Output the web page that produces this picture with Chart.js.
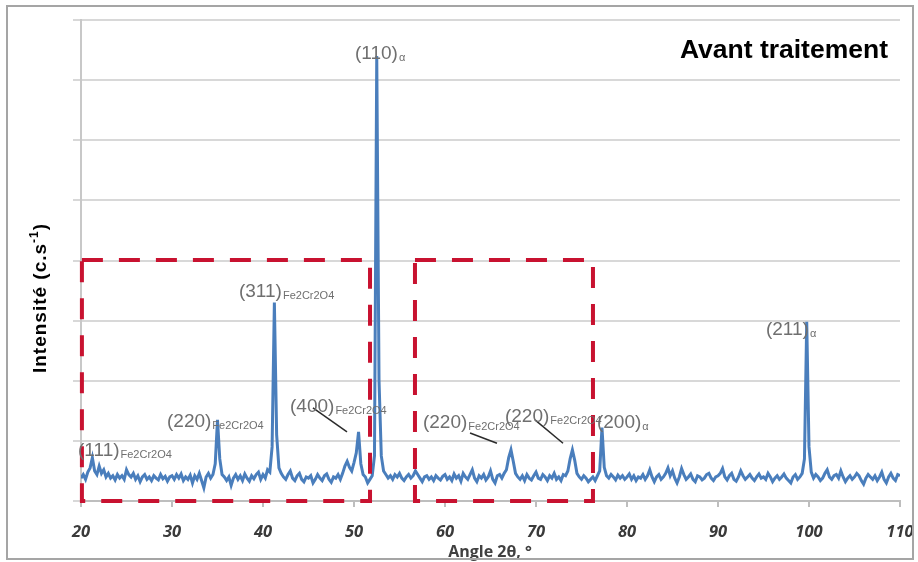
<!DOCTYPE html>
<html>
<head>
<meta charset="utf-8">
<script src="https://cdn.jsdelivr.net/npm/chart.js@4.4.0/dist/chart.umd.min.js"></script>
<style>
  html, body { margin: 0; padding: 0; background: #fff; }
  #wrap { width: 918px; height: 562px; position: relative; }
</style>
</head>
<body>
<div id="wrap"><canvas id="xrdChart" width="918" height="562"></canvas></div>
<script>
// diffractogram (2theta in degrees, intensity in counts, grid step 100)
const angles = [
  20.00, 20.25, 20.50, 20.75, 21.00, 21.25, 21.50, 21.75, 22.00, 22.25, 22.50, 22.75, 23.00, 23.25, 23.50, 23.75, 24.00, 24.25, 24.50, 24.75,
  25.00, 25.25, 25.50, 25.75, 26.00, 26.25, 26.50, 26.75, 27.00, 27.25, 27.50, 27.75, 28.00, 28.25, 28.50, 28.75, 29.00, 29.25, 29.50, 29.75,
  30.00, 30.25, 30.50, 30.75, 31.00, 31.25, 31.50, 31.75, 32.00, 32.25, 32.50, 32.75, 33.00, 33.25, 33.50, 33.75, 34.00, 34.25, 34.50, 34.75,
  35.00, 35.25, 35.50, 35.75, 36.00, 36.25, 36.50, 36.75, 37.00, 37.25, 37.50, 37.75, 38.00, 38.25, 38.50, 38.75, 39.00, 39.25, 39.50, 39.75,
  40.00, 40.25, 40.50, 40.75, 41.00, 41.25, 41.50, 41.75, 42.00, 42.25, 42.50, 42.75, 43.00, 43.25, 43.50, 43.75, 44.00, 44.25, 44.50, 44.75,
  45.00, 45.25, 45.50, 45.75, 46.00, 46.25, 46.50, 46.75, 47.00, 47.25, 47.50, 47.75, 48.00, 48.25, 48.50, 48.75, 49.00, 49.25, 49.50, 49.75,
  50.00, 50.25, 50.50, 50.75, 51.00, 51.25, 51.50, 51.75, 52.00, 52.25, 52.50, 52.75, 53.00, 53.25, 53.50, 53.75, 54.00, 54.25, 54.50, 54.75,
  55.00, 55.25, 55.50, 55.75, 56.00, 56.25, 56.50, 56.75, 57.00, 57.25, 57.50, 57.75, 58.00, 58.25, 58.50, 58.75, 59.00, 59.25, 59.50, 59.75,
  60.00, 60.25, 60.50, 60.75, 61.00, 61.25, 61.50, 61.75, 62.00, 62.25, 62.50, 62.75, 63.00, 63.25, 63.50, 63.75, 64.00, 64.25, 64.50, 64.75,
  65.00, 65.25, 65.50, 65.75, 66.00, 66.25, 66.50, 66.75, 67.00, 67.25, 67.50, 67.75, 68.00, 68.25, 68.50, 68.75, 69.00, 69.25, 69.50, 69.75,
  70.00, 70.25, 70.50, 70.75, 71.00, 71.25, 71.50, 71.75, 72.00, 72.25, 72.50, 72.75, 73.00, 73.25, 73.50, 73.75, 74.00, 74.25, 74.50, 74.75,
  75.00, 75.25, 75.50, 75.75, 76.00, 76.25, 76.50, 76.75, 77.00, 77.25, 77.50, 77.75, 78.00, 78.25, 78.50, 78.75, 79.00, 79.25, 79.50, 79.75,
  80.00, 80.25, 80.50, 80.75, 81.00, 81.25, 81.50, 81.75, 82.00, 82.25, 82.50, 82.75, 83.00, 83.25, 83.50, 83.75, 84.00, 84.25, 84.50, 84.75,
  85.00, 85.25, 85.50, 85.75, 86.00, 86.25, 86.50, 86.75, 87.00, 87.25, 87.50, 87.75, 88.00, 88.25, 88.50, 88.75, 89.00, 89.25, 89.50, 89.75,
  90.00, 90.25, 90.50, 90.75, 91.00, 91.25, 91.50, 91.75, 92.00, 92.25, 92.50, 92.75, 93.00, 93.25, 93.50, 93.75, 94.00, 94.25, 94.50, 94.75,
  95.00, 95.25, 95.50, 95.75, 96.00, 96.25, 96.50, 96.75, 97.00, 97.25, 97.50, 97.75, 98.00, 98.25, 98.50, 98.75, 99.00, 99.25, 99.50, 99.75,
  100.00, 100.25, 100.50, 100.75, 101.00, 101.25, 101.50, 101.75, 102.00, 102.25, 102.50, 102.75, 103.00, 103.25, 103.50, 103.75, 104.00, 104.25, 104.50, 104.75,
  105.00, 105.25, 105.50, 105.75, 106.00, 106.25, 106.50, 106.75, 107.00, 107.25, 107.50, 107.75, 108.00, 108.25, 108.50, 108.75, 109.00, 109.25, 109.50, 109.75,
  110.00
];
const intensity = [
  38, 44, 36, 48, 55, 72, 50, 44, 58, 46, 52, 40, 46, 38, 42, 35, 44, 38, 42, 36,
  52, 44, 40, 46, 36, 42, 32, 40, 44, 36, 40, 34, 42, 38, 35, 44, 37, 41, 33, 40,
  42, 36, 44, 38, 45, 34, 40, 36, 43, 30, 42, 36, 46, 34, 22, 40, 46, 38, 44, 62,
  135, 70, 44, 40, 34, 40, 26, 38, 44, 36, 42, 34, 45, 38, 33, 42, 37, 44, 48, 36,
  44, 38, 52, 48, 90, 330, 110, 55, 46, 40, 36, 44, 50, 38, 34, 42, 46, 36, 32, 40,
  38, 42, 30, 36, 44, 38, 34, 42, 45, 36, 31, 40, 38, 44, 36, 46, 58, 66, 56, 50,
  64, 80, 115, 62, 44, 40, 30, 36, 42, 75, 740, 200, 75, 50, 44, 38, 42, 36, 44, 40,
  46, 38, 34, 40, 44, 38, 42, 50, 44, 38, 32, 40, 42, 36, 40, 34, 42, 38, 35, 41,
  44, 36, 40, 34, 45, 38, 42, 33, 46, 40, 36, 44, 52, 38, 32, 42, 38, 44, 35, 40,
  50, 36, 30, 42, 44, 38, 46, 52, 72, 85, 66, 46, 40, 36, 42, 34, 44, 38, 35, 42,
  48, 38, 36, 44, 40, 34, 42, 38, 46, 36, 40, 34, 44, 42, 50, 70, 85, 68, 46, 40,
  36, 42, 38, 32, 36, 40, 34, 42, 50, 122, 56, 42, 38, 44, 40, 35, 43, 38, 42, 36,
  40, 45, 36, 42, 34, 40, 38, 44, 36, 42, 52, 40, 32, 40, 44, 36, 40, 46, 55, 42,
  50, 38, 30, 40, 54, 44, 36, 40, 45, 36, 32, 42, 40, 35, 38, 44, 46, 38, 34, 40,
  42, 46, 54, 40, 35, 42, 46, 36, 33, 40, 50, 42, 36, 40, 44, 38, 34, 40, 45, 38,
  40, 36, 46, 40, 32, 38, 42, 36, 40, 45, 38, 34, 30, 40, 44, 36, 40, 46, 70, 298,
  90, 48, 38, 44, 40, 34, 38, 46, 52, 40, 36, 42, 44, 38, 50, 40, 32, 38, 42, 36,
  40, 46, 42, 34, 28, 38, 44, 40, 36, 42, 34, 40, 48, 36, 30, 40, 46, 38, 34, 44,
  42
];
const xTicks = [20, 30, 40, 50, 60, 70, 80, 90, 100, 110];

// peak labels: main text, subscript, anchor (angle, intensity) = left edge / middle of text
const peakNames = ['(111)', '(220)', '(311)', '(400)', '(110)', '(220)', '(220)', '(200)', '(211)'];
const peakSubs = ['Fe2Cr2O4', 'Fe2Cr2O4', 'Fe2Cr2O4', 'Fe2Cr2O4', 'α', 'Fe2Cr2O4', 'Fe2Cr2O4', 'α', 'α'];
const peakLabelAngle = [19.67, 29.45, 37.36, 42.97, 50.11, 57.58, 66.59, 76.70, 95.27];
const peakLabelLevel = [83, 131, 348, 156, 744, 130, 140, 130, 285];

// leader lines [angle1, level1, angle2, level2]
const leaders = [
  [45.49, 155, 49.23, 115],
  [62.75, 113, 65.71, 96],
  [69.89, 135, 72.97, 96]
];

// dashed zones [angle from, angle to, level top]
const zones = [
  [20.1, 51.76, 401],
  [56.70, 76.26, 401]
];

const blue = 'rgb(74,126,188)';
const red = 'rgb(200,18,48)';
const gridGray = 'rgb(216,216,216)';
const arial = '"Liberation Sans", Arial, sans-serif';

const overlay = {
  id: 'overlay',
  afterDatasetsDraw(chart) {
    const ctx = chart.ctx;
    const xs = chart.scales.x, ys = chart.scales.y;
    ctx.save();

    // dashed boxes
    ctx.strokeStyle = red;
    ctx.lineWidth = 4;
    ctx.setLineDash([21, 16]);
    zones.forEach(z => {
      const x1 = xs.getPixelForValue(z[0]), x2 = xs.getPixelForValue(z[1]);
      const y1 = ys.getPixelForValue(z[2]), y2 = ys.getPixelForValue(0);
      ctx.strokeRect(x1, y1, x2 - x1, y2 - y1);
    });
    ctx.setLineDash([]);

    // leader lines
    ctx.strokeStyle = '#2b2b2b';
    ctx.lineWidth = 1.5;
    leaders.forEach(l => {
      ctx.beginPath();
      ctx.moveTo(xs.getPixelForValue(l[0]), ys.getPixelForValue(l[1]));
      ctx.lineTo(xs.getPixelForValue(l[2]), ys.getPixelForValue(l[3]));
      ctx.stroke();
    });

    // peak labels
    ctx.textBaseline = 'middle';
    ctx.textAlign = 'left';
    ctx.fillStyle = '#6f6f6f';
    peakNames.forEach((name, i) => {
      const px = xs.getPixelForValue(peakLabelAngle[i]);
      const py = ys.getPixelForValue(peakLabelLevel[i]);
      ctx.font = '19px ' + arial;
      ctx.fillText(name, px, py);
      const w = ctx.measureText(name).width;
      ctx.font = '11px ' + arial;
      ctx.fillText(peakSubs[i], px + w + 1, py + 4);
    });

    // frame title
    ctx.fillStyle = '#000';
    ctx.textAlign = 'right';
    ctx.textBaseline = 'alphabetic';
    ctx.font = 'bold 26.5px ' + arial;
    ctx.fillText('Avant traitement', 888, 58);

    ctx.restore();
  },
  afterDraw(chart) {
    const ctx = chart.ctx;
    ctx.save();
    // y axis title (rotated, with superscript)
    ctx.translate(46, 298);
    ctx.rotate(-Math.PI / 2);
    ctx.fillStyle = '#000';
    ctx.textBaseline = 'alphabetic';
    ctx.letterSpacing = '1px';
    const a = 'Intensité (c.s', b = '-1', c = ')';
    ctx.font = 'bold 19px ' + arial;
    const wa = ctx.measureText(a).width, wc = ctx.measureText(c).width;
    ctx.font = 'bold 12px ' + arial;
    const wb = ctx.measureText(b).width;
    const x0 = -(wa + wb + wc) / 2;
    ctx.font = 'bold 19px ' + arial;
    ctx.fillText(a, x0, 0);
    ctx.font = 'bold 12px ' + arial;
    ctx.fillText(b, x0 + wa, -8);
    ctx.font = 'bold 19px ' + arial;
    ctx.fillText(c, x0 + wa + wb, 0);
    ctx.restore();

    // x axis title
    ctx.save();
    ctx.fillStyle = '#404040';
    ctx.textAlign = 'center';
    ctx.textBaseline = 'middle';
    ctx.font = 'bold 16px "Open Sans", "Liberation Sans", sans-serif';
    ctx.fillText('Angle 2θ, °', 490, 552);

    // outer frame
    ctx.strokeStyle = 'rgb(165,165,165)';
    ctx.lineWidth = 2;
    ctx.strokeRect(7, 6, 906, 553);
    ctx.restore();
  }
};

const ctxEl = document.getElementById('xrdChart');
new Chart(ctxEl, {
  type: 'line',
  data: {
    datasets: [{
      data: angles.map((a, i) => ({ x: a, y: intensity[i] })),
      borderColor: blue,
      borderWidth: 3,
      pointRadius: 0,
      tension: 0,
      fill: false
    }]
  },
  options: {
    responsive: false,
    animation: false,
    events: [],
    layout: { padding: { left: 73, right: 18, top: 20, bottom: 0 } },
    plugins: { legend: { display: false }, tooltip: { enabled: false } },
    scales: {
      x: {
        type: 'linear',
        min: 20, max: 110,
        afterBuildTicks: s => { s.ticks = xTicks.map(v => ({ value: v })); },
        afterFit: s => { s.height = 61; s.paddingLeft = 0; s.paddingRight = 0; },
        grid: { drawOnChartArea: false, drawTicks: true, tickLength: 6, color: 'rgb(190,190,190)', lineWidth: 2 },
        border: { color: 'rgb(190,190,190)', width: 2 },
        ticks: {
          color: '#3a3a3a',
          padding: 15,
          maxRotation: 0,
          font: { family: '"Open Sans", "Liberation Sans", sans-serif', size: 16.5, weight: 'bold', style: 'italic' }
        }
      },
      y: {
        min: 0, max: 800,
        afterFit: s => { s.width = 8; },
        ticks: { stepSize: 100, display: false },
        grid: { color: gridGray, lineWidth: 2, tickLength: 8 },
        border: { color: 'rgb(200,200,200)', width: 2 }
      }
    }
  },
  plugins: [overlay]
});
</script>
</body>
</html>
